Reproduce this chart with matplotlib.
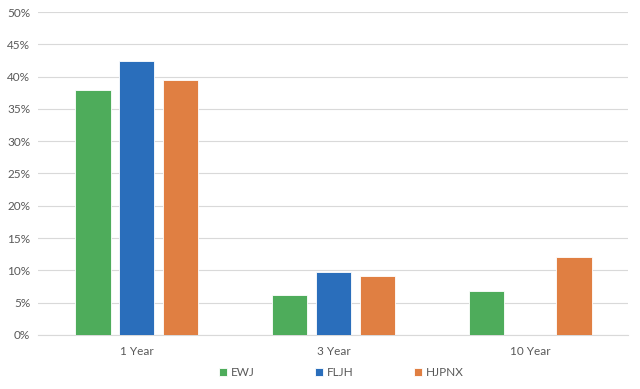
import numpy as np
import matplotlib.pyplot as plt
from matplotlib.ticker import PercentFormatter

# data (percent)
periods = ["1 Year", "3 Year", "10 Year"]
funds = ["EWJ", "FLJH", "HJPNX"]
ewj = [37.9, 6.2, 6.8]
fljh = [42.4, 9.75, np.nan]
hjpnx = [39.5, 9.1, 12.1]
colors = ["#4EAC5B", "#2A6EBB", "#E07F42"]

plt.rcParams['font.family'] = ['Lato', 'DejaVu Sans']

fig = plt.figure(figsize=(6.4, 3.89), dpi=100)
ax = fig.add_axes([0.06, 0.139, 0.922, 0.83])

x = np.arange(len(periods))
width = 0.18
step = 0.223
for i, (name, vals) in enumerate(zip(funds, [ewj, fljh, hjpnx])):
    ax.bar(x + (i - 1) * step, vals, width, color=colors[i], label=name,
           edgecolor="white", linewidth=0.6, zorder=3)

ax.set_xlim(-0.5, 2.5)
ax.set_ylim(0, 50)
ax.set_yticks(np.arange(0, 51, 5))
ax.yaxis.set_major_formatter(PercentFormatter(decimals=0))
ax.set_xticks(x)
ax.set_xticklabels(periods)
ax.grid(axis="y", color="#D9D9D9", linewidth=0.8, zorder=0)
for s in ["top", "right", "left"]:
    ax.spines[s].set_visible(False)
ax.spines["bottom"].set_color("#D9D9D9")
ax.tick_params(axis="both", length=0, colors="#595959", labelsize=8.5)
ax.tick_params(axis="x", pad=8)
ax.tick_params(axis="y", pad=6)

leg = fig.legend(loc="center", bbox_to_anchor=(0.533, 0.043), ncol=3, frameon=False,
                 fontsize=8.5, handlelength=0.7, handleheight=0.7, handletextpad=0.3,
                 columnspacing=5.1)
for t in leg.get_texts():
    t.set_color("#595959")

fig.savefig("out.png", dpi=100)
